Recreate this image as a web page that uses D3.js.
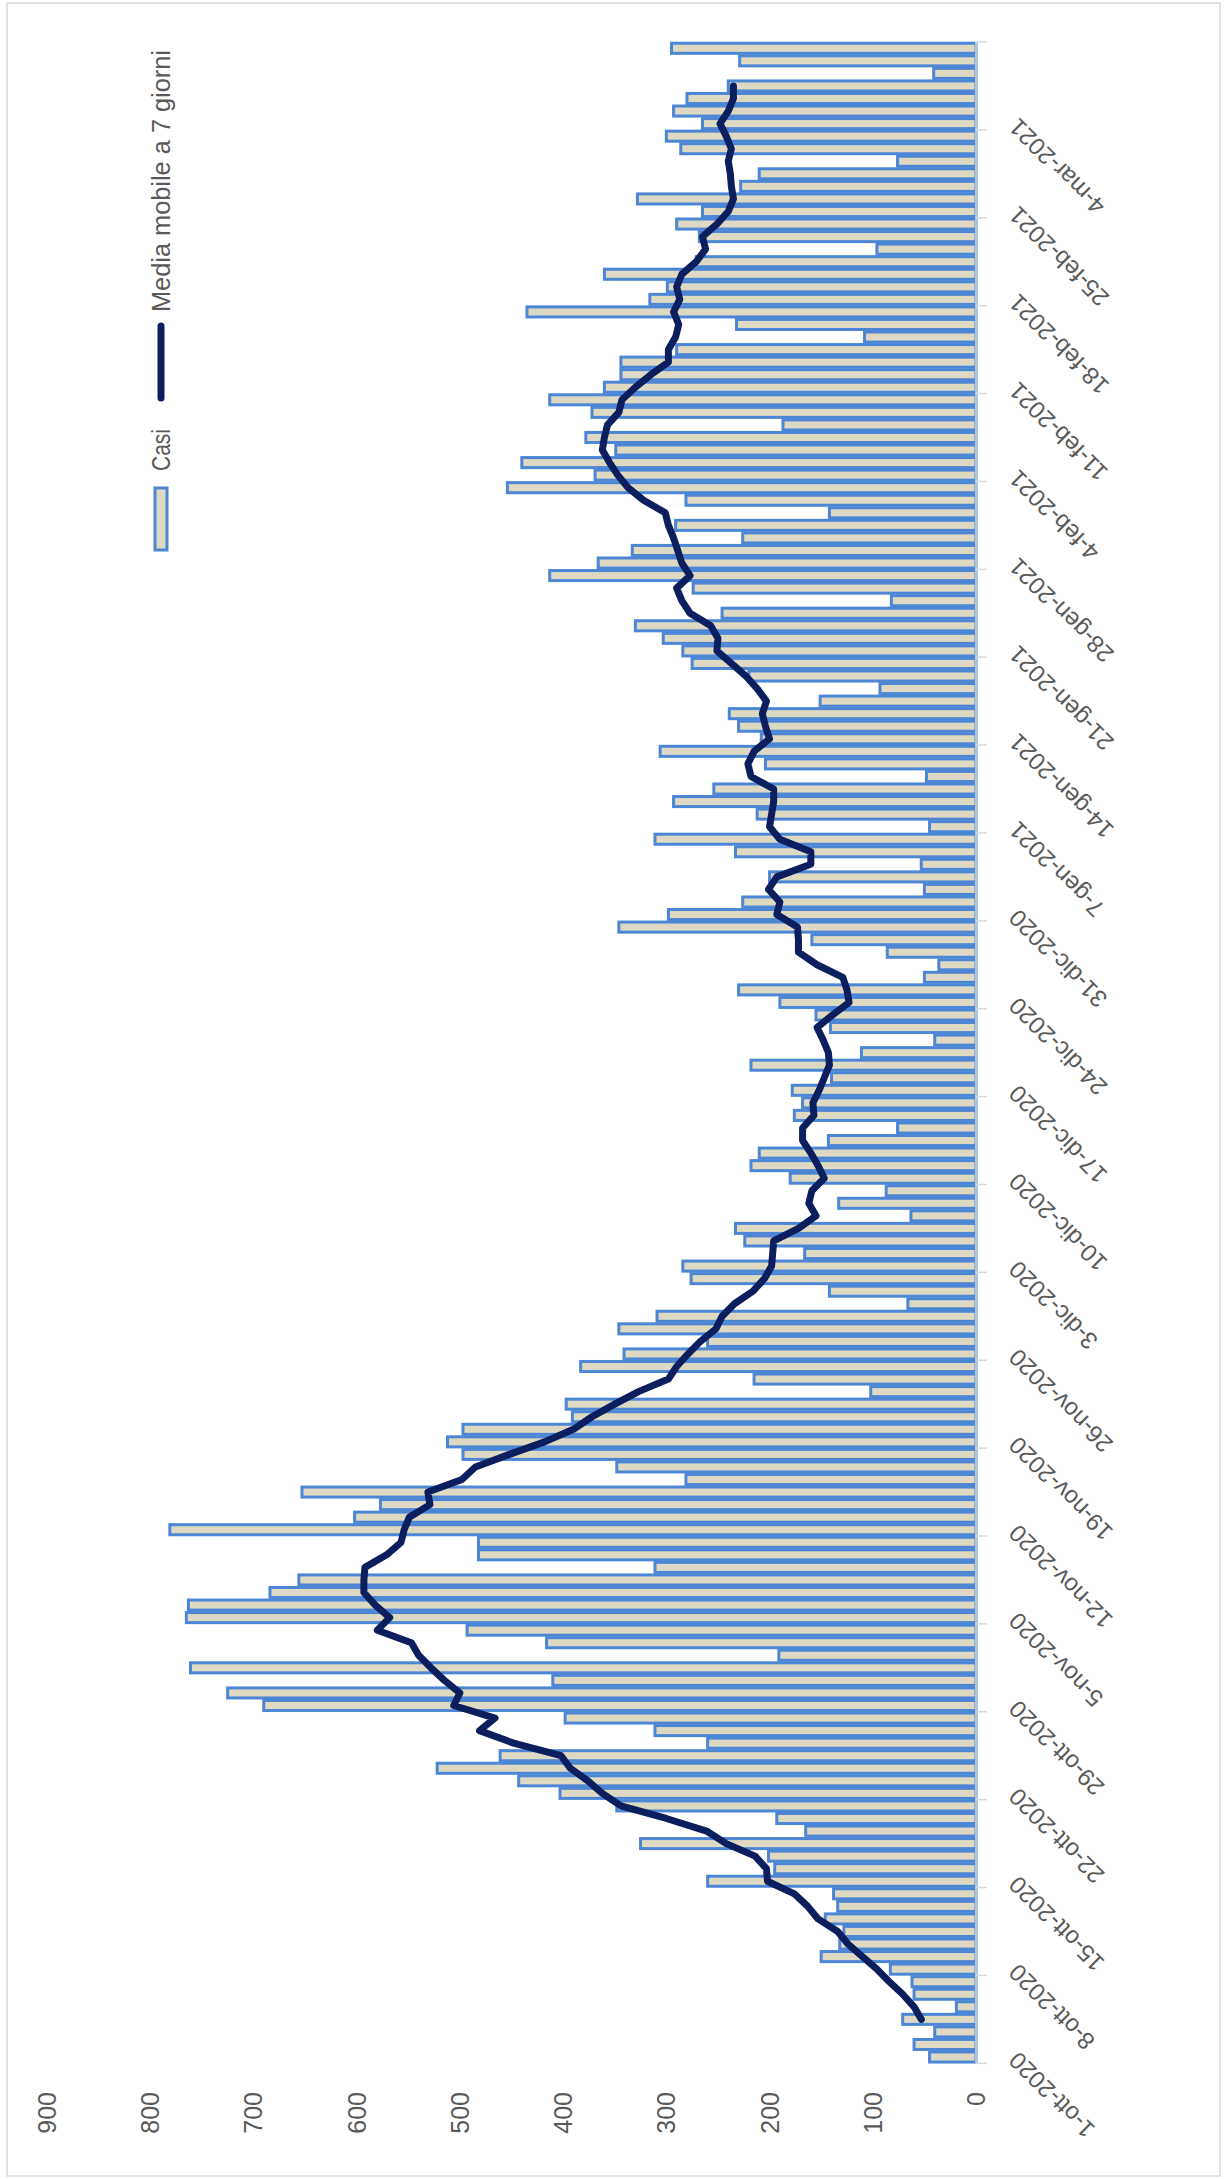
<!DOCTYPE html>
<html>
<head>
<meta charset="utf-8">
<script src="https://cdn.jsdelivr.net/npm/d3@7"></script>
<style>
  body { margin: 0; background: #fff; }
  svg { display: block; }
</style>
</head>
<body>
<div id="chart"></div>
<script>
// casi giornalieri dal 1-ott-2020 al 10-mar-2021
const casi = [
  45, 60, 40, 71, 19, 60, 62, 83, 150, 132,
  128, 146, 134, 138, 260, 195, 201, 325, 165, 193,
  348, 403, 443, 522, 461, 260, 311, 398, 690, 725,
  410, 761, 191, 416, 493, 765, 763, 684, 656, 311,
  482, 482, 781, 602, 577, 653, 281, 348, 497, 512,
  497, 391, 397, 102, 215, 383, 341, 260, 346, 309,
  66, 142, 276, 284, 166, 224, 233, 63, 133, 87,
  180, 218, 210, 143, 76, 176, 168, 178, 140, 218,
  111, 40, 141, 155, 190, 230, 50, 36, 86, 159,
  346, 298, 226, 50, 200, 53, 233, 311, 45, 212,
  293, 254, 48, 204, 306, 208, 230, 239, 151, 93,
  220, 275, 284, 303, 330, 246, 82, 274, 413, 366,
  333, 226, 291, 142, 281, 454, 369, 440, 349, 378,
  187, 372, 413, 360, 344, 344, 290, 108, 232, 435,
  316, 299, 360, 271, 96, 268, 290, 265, 328, 228,
  210, 76, 286, 300, 265, 293, 280, 240, 41, 229,
  295
];

// media mobile (centrata), dal 4-ott-2020 al 7-mar-2021
const mediaStart = 3;
const mediaMobile = [
  53, 60, 71, 84, 96, 110, 124, 134, 153, 163,
  176, 202, 203, 214, 242, 261, 300, 344, 362, 376,
  393, 402, 448, 481, 466, 506, 500, 515, 528, 540,
  547, 580, 568, 582, 593, 593, 592, 571, 557, 554,
  549, 529, 531, 498, 485, 452, 418, 390, 372, 350,
  327, 298, 290, 279, 267, 252, 246, 234, 216, 205,
  198, 197, 196, 172, 155, 162, 159, 147, 153, 160,
  168, 168, 157, 158, 152, 147, 142, 143, 148, 154,
  139, 123, 125, 129, 154, 172, 172, 173, 193, 190,
  201, 193, 160, 160, 190, 200, 198, 196, 196, 218,
  221, 215, 200, 204, 207, 203, 212, 223, 237, 251,
  250, 257, 277, 285, 290, 277, 285, 289, 293, 298,
  301, 322, 337, 347, 355, 362, 360, 357, 346, 343,
  330, 315, 298, 298, 291, 288, 293, 287, 290, 285,
  271, 262, 265, 251, 240, 235, 237, 238, 240, 237,
  242, 248, 240, 235, 235
];

const valueTicks = [0, 100, 200, 300, 400, 500, 600, 700, 800, 900];
const legendLabels = ["Casi", "Media mobile a 7 giorni"];

const W = 1224, H = 2179;

// il grafico è disegnato "in piedi" (larghezza H, altezza W) e poi ruotato di -90°
const start = new Date(Date.UTC(2020, 9, 1));
const nDays = casi.length;
const end = d3.utcDay.offset(start, nDays);

const itLocale = d3.timeFormatLocale({
  dateTime: "%A %e %B %Y, %X",
  date: "%d/%m/%Y",
  time: "%H:%M:%S",
  periods: ["AM", "PM"],
  days: ["domenica", "lunedì", "martedì", "mercoledì", "giovedì", "venerdì", "sabato"],
  shortDays: ["dom", "lun", "mar", "mer", "gio", "ven", "sab"],
  months: ["gennaio", "febbraio", "marzo", "aprile", "maggio", "giugno", "luglio", "agosto", "settembre", "ottobre", "novembre", "dicembre"],
  shortMonths: ["gen", "feb", "mar", "apr", "mag", "giu", "lug", "ago", "set", "ott", "nov", "dic"]
});
const fmt = itLocale.utcFormat("%-d-%b-%Y");

const x = d3.scaleUtc().domain([start, end]).range([115.7, 2137]);
const y = d3.scaleLinear().domain([0, 900]).range([976, 47]);
const day = i => d3.utcDay.offset(start, i);
const slot = x(day(1)) - x(day(0));

const FONT = "'Liberation Sans', Arial, sans-serif";
const TEXT = "#595959";
const BAR_FILL = "#ddd9c3";
const BAR_STROKE = "#4e86d6";
const LINE = "#0b1f5e";

const svg = d3.select("#chart").append("svg")
  .attr("width", W)
  .attr("height", H)
  .attr("viewBox", `0 0 ${W} ${H}`);

svg.append("rect")
  .attr("width", W).attr("height", H).attr("fill", "#fff");

const g = svg.append("g")
  .attr("transform", `translate(0,${H}) rotate(-90)`);

// bordo dell'area grafico
g.append("rect")
  .attr("x", 3).attr("y", 7)
  .attr("width", H - 6).attr("height", 1213)
  .attr("fill", "none")
  .attr("stroke", "#d9d9d9")
  .attr("stroke-width", 1.5);

// barre
g.append("g")
  .selectAll("rect")
  .data(casi)
  .join("rect")
  .attr("x", (d, i) => x(day(i)) + 1.25)
  .attr("width", slot - 2.5)
  .attr("y", d => y(d))
  .attr("height", d => y(0) - y(d))
  .attr("fill", BAR_FILL)
  .attr("stroke", BAR_STROKE)
  .attr("stroke-width", 3);

// asse delle date
g.append("line")
  .attr("x1", x(start)).attr("x2", x(end))
  .attr("y1", y(0)).attr("y2", y(0))
  .attr("stroke", "#d9d9d9")
  .attr("stroke-width", 1.5);

const weekTicks = d3.range(0, nDays + 1, 7).map(day);

g.append("g")
  .selectAll("line")
  .data(weekTicks)
  .join("line")
  .attr("x1", d => x(d)).attr("x2", d => x(d))
  .attr("y1", y(0)).attr("y2", y(0) + 11)
  .attr("stroke", "#d9d9d9")
  .attr("stroke-width", 1.5);

g.append("g")
  .selectAll("text")
  .data(weekTicks.filter(d => d < d3.utcDay.offset(end, -1)))
  .join("text")
  .attr("transform", d => `translate(${x(d) + 7},${y(0) + 37}) rotate(-45)`)
  .attr("text-anchor", "end")
  .attr("dominant-baseline", "central")
  .attr("font-family", FONT)
  .attr("font-size", 24)
  .attr("fill", TEXT)
  .text(d => fmt(d));

// etichette dei valori
g.append("g")
  .selectAll("text")
  .data(valueTicks)
  .join("text")
  .attr("x", 87)
  .attr("y", d => y(d))
  .attr("text-anchor", "end")
  .attr("dominant-baseline", "central")
  .attr("font-family", FONT)
  .attr("font-size", 25)
  .attr("fill", TEXT)
  .text(d => d);

// media mobile
const line = d3.line()
  .x((d, i) => x(day(i + mediaStart)) + slot / 2)
  .y(d => y(d));

g.append("path")
  .datum(mediaMobile)
  .attr("d", line)
  .attr("fill", "none")
  .attr("stroke", LINE)
  .attr("stroke-width", 7)
  .attr("stroke-linejoin", "round")
  .attr("stroke-linecap", "round");

// legenda
const leg = g.append("g").attr("font-family", FONT).attr("font-size", 26).attr("fill", TEXT);
leg.append("rect")
  .attr("x", 1629).attr("y", 155).attr("width", 62).attr("height", 12)
  .attr("fill", BAR_FILL).attr("stroke", BAR_STROKE).attr("stroke-width", 3);
leg.append("text")
  .attr("x", 1708).attr("y", 161)
  .attr("dominant-baseline", "central")
  .attr("textLength", 42)
  .attr("lengthAdjust", "spacingAndGlyphs")
  .text(legendLabels[0]);
leg.append("line")
  .attr("x1", 1781).attr("x2", 1853)
  .attr("y1", 161).attr("y2", 161)
  .attr("stroke", LINE).attr("stroke-width", 7).attr("stroke-linecap", "round");
leg.append("text")
  .attr("x", 1867).attr("y", 161)
  .attr("dominant-baseline", "central")
  .attr("textLength", 262)
  .attr("lengthAdjust", "spacingAndGlyphs")
  .text(legendLabels[1]);
</script>
</body>
</html>
